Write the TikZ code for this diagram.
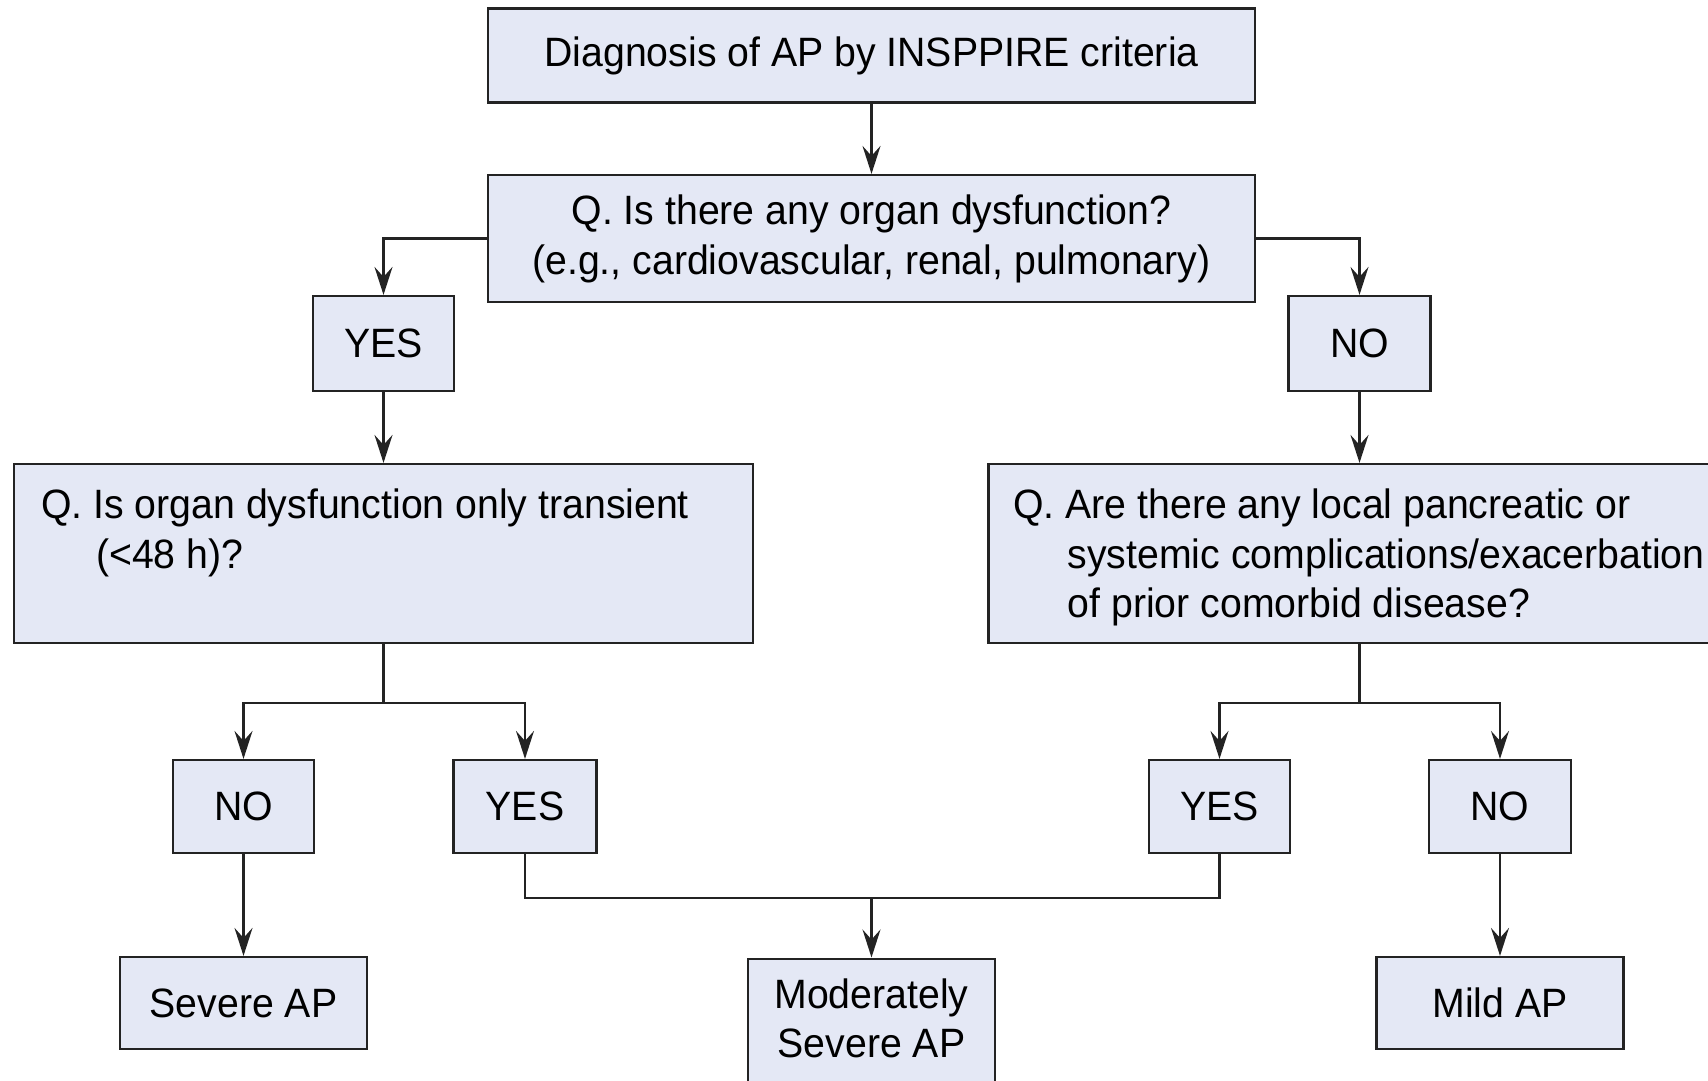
\documentclass[tikz,border=0pt]{standalone}
\usepackage{fontspec}
\setmainfont[FakeStretch=0.957]{Liberation Sans}
\usetikzlibrary{arrows.meta}
\definecolor{boxfill}{RGB}{228,232,245}
\definecolor{linec}{RGB}{35,35,35}
\begin{document}
\begin{tikzpicture}[x=1pt,y=-1pt,
  box/.style={draw=linec, line width=2.2pt, fill=boxfill, inner sep=0pt, align=center, font=\fontsize{41}{50}\selectfont},
  lbl/.style={inner sep=0pt, anchor=base west, font=\fontsize{41}{50}\selectfont},
  conn/.style={draw=linec, line width=2.2pt},
  arr/.style={conn, -{Stealth[length=28pt,width=18pt,inset=10pt]}}]
\clip (0,0) rectangle (1708,1081);
\fill[white] (0,0) rectangle (1708,1081);
% boxes
\node[box, minimum width=767pt, minimum height=94pt] (diag) at (871.5,55.5) {Diagnosis of AP by INSPPIRE criteria};
\node[box, minimum width=767pt, minimum height=127pt] (q1) at (871.5,238.5) {Q. Is there any organ dysfunction?\\(e.g., cardiovascular, renal, pulmonary)};
\node[box, minimum width=141pt, minimum height=95pt] (yesL) at (383.5,343.5) {YES};
\node[box, minimum width=142pt, minimum height=95pt] (noR) at (1359.5,343.5) {NO};
\node[box, minimum width=739pt, minimum height=179pt] (q2) at (383.5,553.5) {};
\node[box, minimum width=742pt, minimum height=179pt] (q3) at (1359.5,553.5) {};
\node[lbl] (q2a) at (41,518) {Q. Is organ dysfunction only transient};
\node[lbl] (q2b) at (96,568) {(<48 h)?};
\node[lbl] (q3a) at (1013,518) {Q. Are there any local pancreatic or};
\node[lbl] (q3b) at (1067.5,568) {systemic complications/exacerbation};
\node[lbl] (q3c) at (1067.5,617) {of prior comorbid disease?};
\node[box, minimum width=141pt, minimum height=93pt] (noL2) at (243.5,806.5) {NO};
\node[box, minimum width=143pt, minimum height=93pt] (yesL2) at (525,806.5) {YES};
\node[box, minimum width=141pt, minimum height=93pt] (yesR2) at (1219.5,806.5) {YES};
\node[box, minimum width=142pt, minimum height=93pt] (noR2) at (1500,806.5) {NO};
\node[box, minimum width=247pt, minimum height=92pt] (severe) at (243.5,1003) {Severe AP};
\node[box, minimum width=247pt, minimum height=140pt, anchor=north] (mod) at (871.5,957.5) {};
\node[lbl, anchor=base] (moda) at (871.5,1008) {Moderately};
\node[lbl, anchor=base] (modb) at (871.5,1057) {Severe AP};
\node[box, minimum width=247pt, minimum height=92pt] (mild) at (1500,1003) {Mild AP};
% connectors
\coordinate (s2) at (383.5,702.6);
\coordinate (s3) at (1359.5,702.6);
\coordinate (m) at (871.5,897.6);
\draw[arr] (diag.south) -- (q1.north);
\draw[arr] (q1.west) -| (yesL.north);
\draw[arr] (q1.east) -| (noR.north);
\draw[arr] (yesL.south) -- (q2.north);
\draw[arr] (noR.south) -- (q3.north);
\draw[conn] (q2.south) -- (s2);
\draw[arr] (s2) -| (noL2.north);
\draw[arr] (s2) -| (yesL2.north);
\draw[conn] (q3.south) -- (s3);
\draw[arr] (s3) -| (yesR2.north);
\draw[arr] (s3) -| (noR2.north);
\draw[arr] (noL2.south) -- (severe.north);
\draw[arr] (noR2.south) -- (mild.north);
\draw[conn] (yesL2.south) |- (m);
\draw[conn] (yesR2.south) |- (m);
\draw[arr] (m) -- (mod.north);
\end{tikzpicture}
\end{document}
